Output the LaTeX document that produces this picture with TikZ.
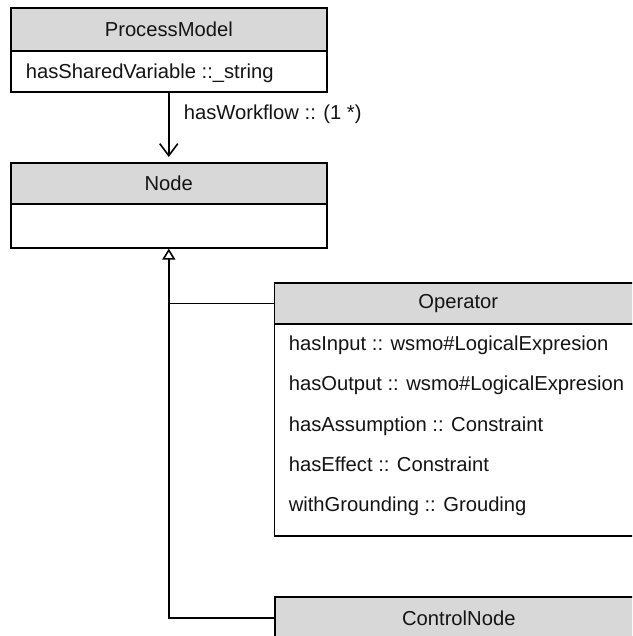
\documentclass[tikz,border=0pt]{standalone}
\usepackage{fontspec}
\setmainfont{Liberation Sans}
\usetikzlibrary{arrows.meta}
\definecolor{headgray}{RGB}{216,216,216}
\definecolor{inkgray}{RGB}{20,20,20}
\begin{document}
\begin{tikzpicture}[x=1pt,y=-1pt,
  line width=1.6pt,
  umltext/.style={font=\fontsize{20.2}{24}\selectfont, text=inkgray},
  classhead/.style={draw=black, fill=headgray, anchor=north west, inner sep=0pt,
    umltext, minimum height=41pt},
  classbody/.style={draw=black, fill=white, anchor=north west, inner sep=0pt},
  attr/.style={umltext, anchor=base west, inner sep=0pt},
  assoc/.style={-{Straight Barb[length=12pt,width=18pt]}, shorten >=5pt},
  generalize/.style={-{Triangle[open,length=11pt,width=13pt,fill=white]}}]
  \useasboundingbox (0,0) rectangle (632,636);
  \clip (0,0) rectangle (632,636);

  % ProcessModel class
  \node[classhead, minimum width=316pt, minimum height=43pt] (pmhead) at (10,7) {ProcessModel};
  \node[classbody, minimum width=316pt, minimum height=41pt] (pmbody) at (10,50) {};
  \node[attr] (pmattr) at (25,78.5) {hasSharedVariable ::\_string};

  % Node class
  \node[classhead, minimum width=316pt] (nodehead) at (10,162) {Node};
  \node[classbody, minimum width=316pt, minimum height=44pt] (nodebody) at (10,203) {};

  % Operator class
  \node[classhead, minimum width=368pt] (ophead) at (273.5,282) {Operator};
  \node[classbody, minimum width=368pt, minimum height=212pt] (opbody) at (273.5,323) {};
  \node[attr] (opa1) at (288,350.5) {hasInput :: wsmo\#LogicalExpresion};
  \node[attr] (opa2) at (288,390.5) {hasOutput :: wsmo\#LogicalExpresion};
  \node[attr] (opa3) at (288,431) {hasAssumption :: Constraint};
  \node[attr] (opa4) at (288,471.5) {hasEffect :: Constraint};
  \node[attr] (opa5) at (288,511.5) {withGrounding :: Grouding};

  % ControlNode class
  \node[classhead, minimum width=368pt, minimum height=42pt] (cnhead) at (274,596) {ControlNode};
  \node[classbody, minimum width=368pt, minimum height=40pt] (cnbody) at (274,638) {};

  % association ProcessModel -> Node
  \draw[assoc] (pmbody.south) -- (nodehead.north);
  \node[umltext, anchor=base west, inner sep=0pt] (wflabel) at (183,119.5) {hasWorkflow :: (1 *)};

  % generalisation of Operator and ControlNode to Node
  \draw (ophead.west) -- (ophead.west -| nodebody.south);
  \draw[generalize] (cnhead.west) -| (nodebody.south);
\end{tikzpicture}
\end{document}
